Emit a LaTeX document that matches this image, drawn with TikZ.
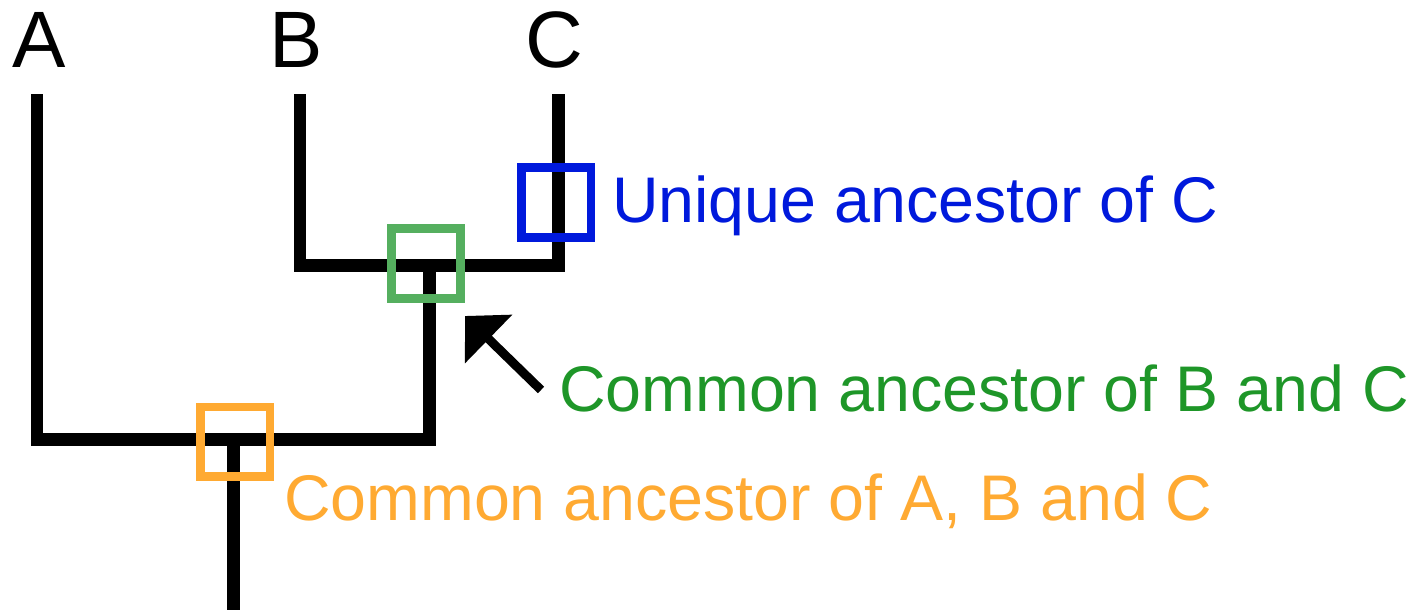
\documentclass[tikz,border=0pt]{standalone}
\usepackage{fontspec}
\setmainfont{Liberation Sans}
\usetikzlibrary{arrows.meta}
\definecolor{cblue}{RGB}{0,25,220}
\definecolor{cgreenbox}{RGB}{85,175,95}
\definecolor{cgreentext}{RGB}{30,150,40}
\definecolor{corange}{RGB}{255,170,50}
\tikzset{
  branch/.style={line width=12.5pt, black, line join=miter, line cap=butt},
  markbox/.style={draw, line width=8.7pt, minimum width=69.5pt, minimum height=69.5pt, inner sep=0pt, fill=none},
  leaflabel/.style={anchor=base, inner sep=0pt, font=\fontsize{80}{90}\selectfont},
  note/.style={anchor=base west, inner sep=0pt, font=\fontsize{64.5}{72}\selectfont},
  pointer/.style={line width=9pt, -{Triangle[length=33pt,width=66pt]}}
}
\begin{document}
\begin{tikzpicture}[x=1pt,y=-1pt]
\useasboundingbox (0,0) rectangle (1418,610);
% leaf labels
\node[leaflabel] (A) at (39.5,67) {A};
\node[leaflabel] (B) at (296,67) {B};
\node[leaflabel] (C) at (554,67) {C};
% tree points
\coordinate (tipA) at (37,94);
\coordinate (tipB) at (300,94);
\coordinate (tipC) at (558.3,94);
\coordinate (jBC) at (429.5,265.5);
\coordinate (jRoot) at (233.7,439.5);
\coordinate (rootEnd) at (233.7,610);
% branches
\draw[branch] (tipB) |- (jBC) -| (tipC);
\draw[branch] (tipA) |- (jRoot) -| (jBC);
\draw[branch] (jRoot) -- (rootEnd);
% boxes
\node[markbox, draw=cblue] (boxC) at (556.2,202.5) {};
\node[markbox, draw=cgreenbox] (boxBC) at (426,263.4) {};
\node[markbox, draw=corange] (boxABC) at (235.3,441.7) {};
% notes
\node[note, text=cblue] (noteC) at (612,222) {Unique ancestor of C};
\node[note, text=cgreentext] (noteBC) at (559,411) {Common ancestor of B and C};
\node[note, text=corange] (noteABC) at (284,520) {Common ancestor of A, B and C};
% pointer
\coordinate (arrTail) at (541,390);
\coordinate (arrTip) at (465,316);
\draw[pointer] (arrTail) -- (arrTip);
\end{tikzpicture}
\end{document}
